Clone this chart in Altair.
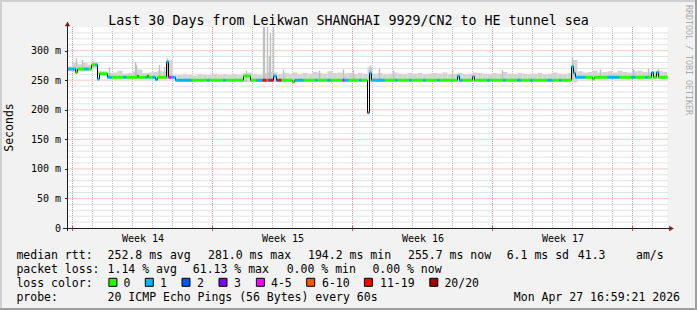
import json
import altair as alt
import pandas as pd

FONT = "DejaVu Sans Mono"

# ---------------- data ----------------
TITLE = "Last 30 Days from Leikwan SHANGHAI 9929/CN2 to HE tunnel sea"
Y_TITLE = "Seconds"
WATERMARK = "RRDTOOL / TOBI OETIKER"
TOTAL_DAYS = 30
Y_MAX = 340

LOSS_LABELS = ["0", "1", "2", "3", "4-5", "6-10", "11-19", "20/20"]
LOSS_COLORS = ["#26ff00", "#00b8ff", "#0059ff", "#7e00ff", "#ff00ff", "#ff5500", "#ff0000", "#a00000"]

# median rtt runs: start day, median (ms), loss bucket index
seg_start = [0.00, 0.40, 0.50, 0.85, 1.05, 1.20, 1.40, 1.50, 1.60, 2.00,
             2.20, 2.80, 2.95, 3.50, 3.55, 3.90, 4.00, 4.05, 4.25, 4.40,
             4.50, 4.95, 5.05, 5.20, 5.40, 6.20, 7.00, 7.10, 7.80, 7.90,
             8.80, 9.15, 9.45, 9.75, 9.95, 10.05, 10.15, 10.30, 10.45, 10.55,
             10.70, 11.25, 11.35, 11.80, 12.40, 12.50, 13.00, 13.15, 13.75, 13.85,
             14.05, 14.60, 14.70, 15.00, 15.05, 15.10, 15.20, 15.85, 16.40, 16.50,
             17.10, 17.20, 17.80, 17.90, 18.50, 18.60, 19.50, 19.60, 19.75, 20.25,
             20.35, 21.00, 21.10, 21.80, 21.90, 22.50, 22.65, 23.15, 23.25, 24.00,
             24.25, 24.60, 24.70, 25.20, 25.30, 25.40, 25.90, 26.25, 26.35, 27.00,
             27.60, 28.20, 28.40, 28.90, 29.00, 29.20, 29.30, 29.45, 29.55]
seg_rtt = [269, 263, 269, 269, 269, 276, 276, 252, 261, 255,
           255, 255, 255, 258, 255, 255, 258, 255, 255, 251,
           255, 281, 255, 255, 250, 250, 250, 250, 250, 250,
           257, 250, 250, 250, 250, 250, 250, 257, 250, 250,
           250, 247, 250, 250, 250, 250, 250, 250, 250, 250,
           250, 250, 250, 195, 195, 262, 250, 250, 250, 250,
           250, 250, 250, 250, 250, 250, 257, 250, 250, 256,
           250, 250, 250, 250, 250, 250, 250, 250, 250, 250,
           250, 250, 250, 273, 262, 255, 255, 252, 255, 255,
           255, 255, 255, 255, 255, 263, 255, 263, 255]
seg_loss = [1, 0, 0, 1, 0, 0, 1, 1, 0, 1,
            0, 1, 0, 0, 0, 1, 0, 0, 1, 1,
            0, 1, 4, 1, 1, 0, 1, 0, 1, 0,
            0, 0, 1, 6, 5, 2, 6, 1, 2, 6,
            0, 0, 1, 0, 1, 0, 1, 0, 4, 1,
            0, 1, 0, 6, 1, 1, 1, 0, 1, 0,
            1, 0, 1, 0, 1, 0, 1, 1, 0, 1,
            0, 1, 0, 1, 0, 1, 0, 1, 0, 1,
            0, 1, 0, 1, 1, 1, 0, 0, 0, 1,
            0, 1, 0, 1, 0, 1, 0, 1, 0]

# smoke (ping spread): base level runs and upper edge per quarter day
smoke_base_start = [0.0, 1.2, 1.5, 2.0, 5.4, 25.3]
smoke_base_rtt = [265, 271, 258, 252, 247, 252]
SMOKE_BIN = 0.25
smoke_top = [273, 280, 277, 279, 276, 281, 266, 265,
             262, 263, 266, 261, 262, 265, 268, 262, 263, 264, 266, 264,
             284, 258,
             259, 260, 259, 258, 260, 259, 259, 261, 259, 260, 259, 260, 259, 262, 263, 260, 259,
             262, 264, 263,
             260, 262, 261, 263, 260, 262, 261, 264, 262, 261, 265, 262, 263, 261, 262, 260, 262, 261,
             272,
             261, 262, 260, 261, 263, 261, 260, 262, 261, 262, 260, 261, 262, 261, 263, 260, 261, 262, 260, 261,
             263, 262, 261, 260, 262, 261, 264, 261, 260, 262, 261, 260, 261, 262, 260, 261, 263, 261, 260, 262,
             284,
             265, 263, 264, 266, 263, 264, 265, 263, 266, 264, 263, 265, 266, 264, 263, 265, 266, 264]

# single outlier pings
spike_day = [0.45, 0.75, 1.30, 2.10, 3.40, 3.45, 4.60, 4.85, 5.00, 8.95,
             9.80, 9.85, 10.00, 10.10, 10.15, 10.30, 10.80, 12.60, 13.80, 14.30,
             15.15, 15.60, 16.30, 19.25, 21.75, 25.25, 26.65, 28.30, 29.05, 29.55]
spike_base = [265, 265, 271, 252, 252, 252, 252, 252, 252, 247,
              247, 247, 247, 247, 247, 247, 247, 247, 247, 247,
              247, 247, 247, 247, 247, 252, 252, 252, 252, 252]
spike_top = [287, 284, 282, 272, 281, 276, 276, 272, 287, 266,
             345, 345, 345, 290, 330, 345, 268, 266, 268, 267,
             275, 270, 266, 267, 267, 288, 268, 268, 270, 269]

week_centers = [3.75, 10.75, 17.75, 24.75]
week_names = ["Week 14", "Week 15", "Week 16", "Week 17"]
week_bounds = [0.25, 7.25, 14.25, 21.25, 28.25]
day_bounds = [0.25 + d for d in range(TOTAL_DAYS)]
y_label_values = [0, 50, 100, 150, 200, 250, 300]
y_minor = [v for v in range(10, Y_MAX, 10) if v % 50]
y_major = [50, 100, 150, 200, 250, 300]

rtt_stats = ["252.8 ms avg", "281.0 ms max", "194.2 ms min", "255.7 ms now", "6.1 ms sd", "41.3", "am/s"]
loss_stats = ["1.14 % avg", "61.13 % max", "0.00 % min", "0.00 % now"]
probe_text = "20 ICMP Echo Pings (56 Bytes) every 60s"
timestamp = "Mon Apr 27 16:59:21 2026"

# ---------------- layout (pixels in the 697x310 canvas) ----------------
OX, OY = 67.5, 27
W, H = 600, 201
rtt_x = [107.6, 208, 308, 408, 506.7, 577.8, 636]
loss_x = [107.6, 192.8, 286.7, 372.4]
swatch_x = [108.9, 145.3, 182.0, 219.0, 256.4, 306.7, 364.4, 429.8]
swatch_label_x = [123.6, 160.0, 197.0, 234.0, 271.0, 322.0, 380.0, 444.4]
line_y = [258.5, 272.7, 286.9, 301.1]

# ---------------- tables ----------------
seg_end = seg_start[1:] + [TOTAL_DAYS]
segs = pd.DataFrame({"start": seg_start, "end": seg_end, "rtt": seg_rtt,
                     "loss": [LOSS_LABELS[i] for i in seg_loss]})
step_pts = pd.DataFrame({"t": seg_start + [TOTAL_DAYS], "rtt": seg_rtt + [seg_rtt[-1]]})


def base_at(t):
    b = smoke_base_rtt[0]
    for s, v in zip(smoke_base_start, smoke_base_rtt):
        if t >= s - 1e-9:
            b = v
    return b


smoke = pd.DataFrame({
    "start": [i * SMOKE_BIN for i in range(len(smoke_top))],
    "end": [(i + 1) * SMOKE_BIN for i in range(len(smoke_top))],
    "top": smoke_top,
})
smoke["base"] = [base_at(t) for t in smoke["start"]]
spikes = pd.DataFrame({"t": spike_day, "base": spike_base, "top": spike_top})

minor_x = pd.DataFrame({"v": [d for d in day_bounds if d not in week_bounds]})
major_x = pd.DataFrame({"v": week_bounds})
minor_y = pd.DataFrame({"v": y_minor})
major_y = pd.DataFrame({"v": y_major})
one = pd.DataFrame({"k": [0]})

xs = alt.Scale(domain=[0, TOTAL_DAYS], nice=False, zero=False)
ys = alt.Scale(domain=[0, Y_MAX], nice=False, zero=True)

label_expr_x = f"{json.dumps(week_names)}[indexof({json.dumps(week_centers)}, datum.value)]"
x_axis = alt.Axis(values=week_centers, labelExpr=label_expr_x, title=None, grid=False,
                  domain=False, ticks=False, tickSize=0, labelFont=FONT, labelFontSize=10,
                  labelColor="#000000", labelPadding=5, labelFlush=False, labelOverlap=False)
y_axis = alt.Axis(values=y_label_values,
                  labelExpr="datum.value == 0 ? '0' : datum.value + ' m'",
                  title=None, grid=False, domain=False, ticks=True, tickSize=3,
                  tickColor="#1f1f1f", labelFont=FONT, labelFontSize=10, labelColor="#000000",
                  labelPadding=4, labelOverlap=False, labelFlush=False)


def X(f):
    return alt.X(f, type="quantitative", scale=xs, axis=x_axis)


def Y(f):
    return alt.Y(f, type="quantitative", scale=ys, axis=y_axis)


GRID = "#c4c4c4"
MGRID = "#e59595"

layers = []
layers.append(alt.Chart(minor_x).mark_rule(color=GRID, strokeDash=[1, 1], strokeWidth=1)
              .encode(x=X("v")))
layers.append(alt.Chart(minor_y).mark_rule(color=GRID, strokeDash=[1, 1], strokeWidth=1)
              .encode(y=Y("v")))
layers.append(alt.Chart(major_x).mark_rule(color=MGRID, strokeDash=[1, 1], strokeWidth=1)
              .encode(x=X("v")))
layers.append(alt.Chart(major_y).mark_rule(color=MGRID, strokeDash=[1, 1], strokeWidth=1)
              .encode(y=Y("v")))
# smoke
layers.append(alt.Chart(smoke).mark_rect(color="#d4d4d4", clip=True)
              .encode(x=X("start"), x2="end", y=Y("base"), y2="top"))
layers.append(alt.Chart(spikes).mark_rule(color="#c0c0c0", strokeWidth=1.4, clip=True)
              .encode(x=X("t"), y=Y("base"), y2="top"))
# median line: dark step line with loss-coloured segments
layers.append(alt.Chart(step_pts).mark_line(interpolate="step-after", color="#000000", strokeWidth=1)
              .encode(x=X("t"), y=Y("rtt")))
layers.append(alt.Chart(segs).mark_rule(strokeWidth=3, strokeCap="butt")
              .encode(x=X("start"), x2="end", y=Y("rtt"),
                      color=alt.Color("loss:N", scale=alt.Scale(domain=LOSS_LABELS, range=LOSS_COLORS),
                                      legend=None)))
# major tick marks under the x axis
layers.append(alt.Chart(major_x).mark_rule(color="#de4f4f", strokeWidth=1)
              .encode(x=X("v"), y=alt.value(H - 2), y2=alt.value(H + 3)))


def pxrule(x1, y1, x2, y2, color, w=1.0):
    return alt.Chart(one).mark_rule(color=color, strokeWidth=w).encode(
        x=alt.value(x1 - OX), x2=alt.value(x2 - OX), y=alt.value(y1 - OY), y2=alt.value(y2 - OY))


def txt(s, x, y, size=11.5, align="left", baseline="alphabetic", color="#000000", angle=0):
    return alt.Chart(one).mark_text(text=s, font=FONT, fontSize=size, align=align,
                                    baseline=baseline, color=color, angle=angle).encode(
        x=alt.value(x - OX), y=alt.value(y - OY))


# axes + arrows
layers.append(pxrule(67.5, 231, 67.5, 22, "#1f1f1f"))
layers.append(pxrule(63, 228.5, 670, 228.5, "#1f1f1f"))
layers.append(alt.Chart(one).mark_point(shape="triangle-up", filled=True, size=30, color="#801f1f", opacity=1)
              .encode(x=alt.value(0), y=alt.value(24 - OY)))
layers.append(alt.Chart(one).mark_point(shape="triangle-right", filled=True, size=30, color="#801f1f", opacity=1)
              .encode(x=alt.value(671.5 - OX), y=alt.value(228.5 - OY)))

# frame (3D border)
layers.append(pxrule(0, 1, 697, 1, "#cfcfcf", 2))
layers.append(pxrule(1, 0, 1, 310, "#cfcfcf", 2))
layers.append(pxrule(0, 309, 697, 309, "#9e9e9e", 2))
layers.append(pxrule(696, 0, 696, 310, "#9e9e9e", 2))

# texts
layers.append(txt(TITLE, 348.5, 24.5, size=13.3, align="center"))
layers.append(txt(Y_TITLE, 10, 127.5, size=11.5, align="center", baseline="middle", angle=270))
layers.append(txt(WATERMARK, 688, 5, size=8.3, align="left", baseline="middle", color="#ababab", angle=90))

layers.append(txt("median rtt:", 16.4, line_y[0]))
for s, x in zip(rtt_stats, rtt_x):
    layers.append(txt(s, x, line_y[0]))
layers.append(txt("packet loss:", 16.4, line_y[1]))
for s, x in zip(loss_stats, loss_x):
    layers.append(txt(s, x, line_y[1]))
layers.append(txt("loss color:", 16.4, line_y[2]))
for lab, col, sx, lx in zip(LOSS_LABELS, LOSS_COLORS, swatch_x, swatch_label_x):
    layers.append(alt.Chart(one).mark_rect(fill=col, stroke="#000000", strokeWidth=1).encode(
        x=alt.value(sx - OX), x2=alt.value(sx + 8 - OX),
        y=alt.value(278.3 - OY), y2=alt.value(286.3 - OY)))
    layers.append(txt(lab, lx, line_y[2]))
layers.append(txt("probe:", 16.4, line_y[3]))
layers.append(txt(probe_text, 107.6, line_y[3]))
layers.append(txt(timestamp, 680, line_y[3], align="right"))

chart = alt.layer(*layers).properties(
    width=W, height=H,
    autosize=alt.AutoSizeParams(type="none"),
    padding={"left": OX, "top": OY, "right": 697 - OX - W, "bottom": 310 - OY - H},
    background="#f2f2f2",
).configure_view(fill="#ffffff", stroke=None)

chart.save("out.html", embed_options={"renderer": "svg", "actions": False})
